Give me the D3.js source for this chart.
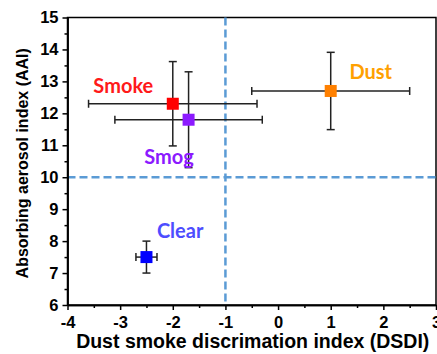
<!DOCTYPE html>
<html><head><meta charset="utf-8">
<script src="https://cdn.jsdelivr.net/npm/d3@7"></script>
<style>body{margin:0;background:#fff}svg{display:block}</style>
</head><body>
<svg id="c" width="437" height="354"></svg>
<script>
const categories = ["Smoke","Smog","Dust","Clear"];
const dsdi =    [-2.0, -1.7, 1.0, -2.5];
const dsdiErr = [1.6, 1.4, 1.5, 0.2];
const aai =     [12.3, 11.8, 12.7, 7.5];
const aaiErr =  [1.32, 1.5, 1.21, 0.5];
const markerColors = ["#ff0000","#8c1aff","#ff8000","#0000ff"];
const labelColors = ["#ff1a1a","#8c1aff","#ffa000","#4d4dff"];
const labelPos = [[-2.94,12.64],[-2.07,10.42],[1.76,13.08],[-1.86,8.1]];
const xTicks = [-4,-3,-2,-1,0,1,2,3];
const yTicks = [6,7,8,9,10,11,12,13,14,15];
const thresholdX = -1, thresholdY = 10;

const svg = d3.select("#c");
const m = {l:67.5, r:436, t:17.5, b:305};
const x = d3.scaleLinear().domain([-4,3]).range([m.l,m.r]);
const y = d3.scaleLinear().domain([6,15]).range([m.b,m.t]);
const font = "'Liberation Sans', Arial, sans-serif";

// frame
svg.append("rect").attr("x",m.l).attr("y",m.t).attr("width",m.r-m.l).attr("height",m.b-m.t)
  .attr("fill","none").attr("stroke","#000").attr("stroke-width",1.5);

// dashed lines
svg.append("line").attr("x1",x(-4)).attr("x2",x(3)).attr("y1",y(thresholdY)).attr("y2",y(thresholdY))
  .attr("stroke","#5b9bd5").attr("stroke-width",2.5).attr("stroke-dasharray","8,4");
svg.append("line").attr("x1",x(thresholdX)).attr("x2",x(thresholdX)).attr("y1",y(15)).attr("y2",y(6))
  .attr("stroke","#5b9bd5").attr("stroke-width",2.5).attr("stroke-dasharray","8,4");

// axes
const fmt = d => String(d);
const xAxis = svg.append("g").attr("transform",`translate(0,${m.b})`)
  .call(d3.axisBottom(x).tickValues(xTicks).tickSize(5).tickSizeOuter(0).tickFormat(fmt));
const xMinor = svg.append("g").attr("transform",`translate(0,${m.b})`)
  .call(d3.axisBottom(x).tickValues(d3.range(-3.5,3,1)).tickSize(3).tickSizeOuter(0).tickFormat(""));
const yAxis = svg.append("g").attr("transform",`translate(${m.l},0)`)
  .call(d3.axisLeft(y).tickValues(yTicks).tickSize(5).tickSizeOuter(0).tickFormat(fmt));
const yMinor = svg.append("g").attr("transform",`translate(${m.l},0)`)
  .call(d3.axisLeft(y).tickValues(d3.range(6.5,15,1)).tickSize(3).tickSizeOuter(0).tickFormat(""));
[xAxis,xMinor,yAxis,yMinor].forEach(g=>{
  g.select(".domain").attr("stroke","#000").attr("stroke-width",1.5);
  g.selectAll(".tick line").attr("stroke","#000").attr("stroke-width",1.5);
  g.selectAll("text").attr("font-family",font).attr("font-weight","bold").attr("font-size",16.5).attr("fill","#000");
});
xAxis.selectAll("text").attr("dy","0.9em");
yAxis.selectAll("text").attr("dx","-1px");

// axis titles
svg.append("text").attr("x",(m.l+m.r)/2+1).attr("y",348).attr("text-anchor","middle")
  .attr("font-family",font).attr("font-weight","bold").attr("font-size",19.5).text("Dust smoke discrimation index (DSDI)");
svg.append("text").attr("transform",`translate(28,${(m.t+m.b)/2+2}) rotate(-90)`).attr("text-anchor","middle")
  .attr("font-family",font).attr("font-weight","bold").attr("font-size",16).text("Absorbing aerosol index (AAI)");

// error bars
const cap = 4;
const eb = svg.append("g").attr("stroke","#222").attr("stroke-width",1.5);
categories.forEach((c,i)=>{
  const cx=x(dsdi[i]), cy=y(aai[i]);
  const x0=x(dsdi[i]-dsdiErr[i]), x1=x(dsdi[i]+dsdiErr[i]);
  const y0=y(aai[i]-aaiErr[i]), y1=y(aai[i]+aaiErr[i]);
  eb.append("line").attr("x1",x0).attr("x2",x1).attr("y1",cy).attr("y2",cy);
  eb.append("line").attr("x1",x0).attr("x2",x0).attr("y1",cy-cap).attr("y2",cy+cap);
  eb.append("line").attr("x1",x1).attr("x2",x1).attr("y1",cy-cap).attr("y2",cy+cap);
  eb.append("line").attr("x1",cx).attr("x2",cx).attr("y1",y0).attr("y2",y1);
  eb.append("line").attr("x1",cx-cap).attr("x2",cx+cap).attr("y1",y0).attr("y2",y0);
  eb.append("line").attr("x1",cx-cap).attr("x2",cx+cap).attr("y1",y1).attr("y2",y1);
});
// markers
const s=12;
svg.selectAll("rect.mk").data(categories).join("rect").attr("class","mk")
  .attr("x",(d,i)=>x(dsdi[i])-s/2).attr("y",(d,i)=>y(aai[i])-s/2)
  .attr("width",s).attr("height",s).attr("fill",(d,i)=>markerColors[i]);
// labels
svg.selectAll("text.lb").data(categories).join("text").attr("class","lb")
  .attr("x",(d,i)=>x(labelPos[i][0])).attr("y",(d,i)=>y(labelPos[i][1]))
  .attr("text-anchor","middle").attr("font-family","Lato, 'Open Sans', sans-serif").attr("font-weight","bold")
  .attr("font-size",20).attr("fill",(d,i)=>labelColors[i]).text(d=>d);
</script>
</body></html>
